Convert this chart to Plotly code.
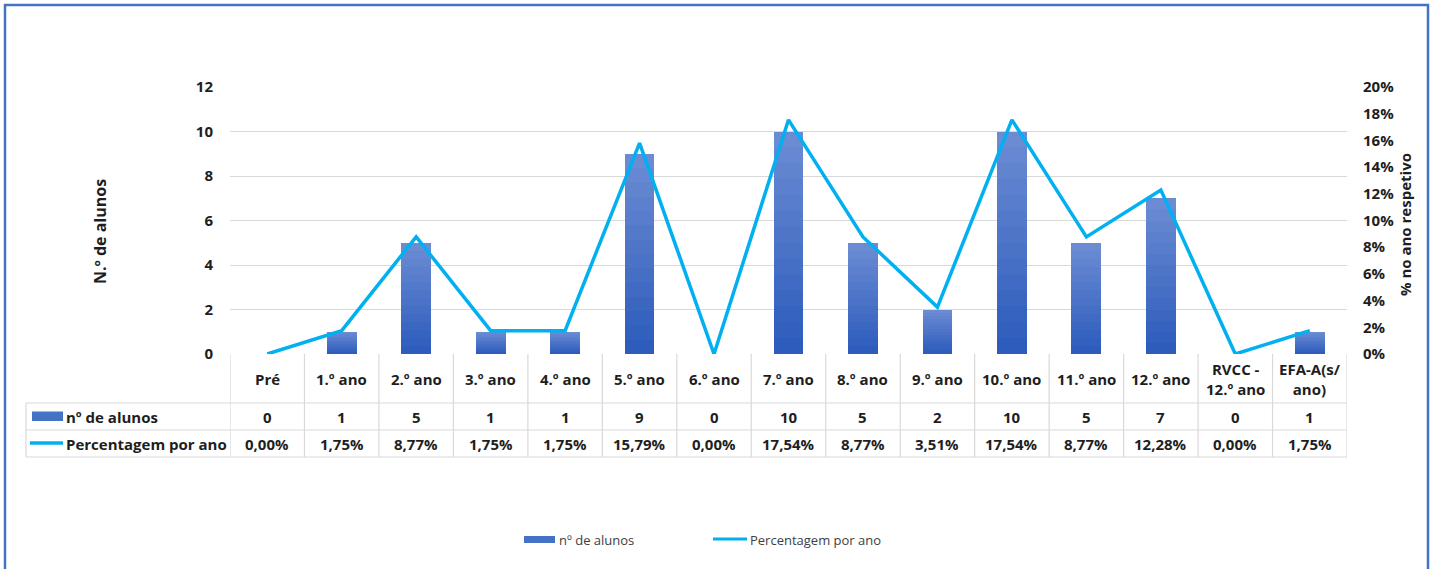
import plotly.graph_objects as go

# ---------------- data ----------------
categories = ["Pré", "1.º ano", "2.º ano", "3.º ano", "4.º ano", "5.º ano", "6.º ano",
              "7.º ano", "8.º ano", "9.º ano", "10.º ano", "11.º ano", "12.º ano",
              "RVCC -<br>12.º ano", "EFA-A(s/<br>ano)"]
n_alunos = [0, 1, 5, 1, 1, 9, 0, 10, 5, 2, 10, 5, 7, 0, 1]
percentagem = [0.00, 1.75, 8.77, 1.75, 1.75, 15.79, 0.00, 17.54, 8.77, 3.51,
               17.54, 8.77, 12.28, 0.00, 1.75]
left_ticks = [0, 2, 4, 6, 8, 10, 12]
right_ticks = [0, 2, 4, 6, 8, 10, 12, 14, 16, 18, 20]
series_names = ["nº de alunos", "Percentagem por ano"]

# ---------------- geometry helpers ----------------
W, H = 1434, 569
L, R, T, B = 230, 1347, 87, 354


def px(x):
    return (x - L) / (R - L)


def py(y):
    return (B - y) / (B - T)


FONT = "'Open Sans', 'Noto Sans', sans-serif"
TXT = "#1e1e1e"
GRID = "#D9D9D9"
BAR_TOP = (0x6B, 0x8B, 0xD3)
BAR_BOT = (0x2D, 0x5C, 0xBC)
LINE_C = "#00B0F0"
FS = 15

fig = go.Figure()

# gradient bars via overlaid bars
N = 14
xs = list(range(len(categories)))
for k in range(N):
    t = k / (N - 1)
    c = tuple(round(BAR_TOP[i] + (BAR_BOT[i] - BAR_TOP[i]) * t) for i in range(3))
    fig.add_trace(go.Bar(
        x=xs, y=[v * (N - k) / N for v in n_alunos], width=0.4,
        marker=dict(color="rgb(%d,%d,%d)" % c, line=dict(width=0)),
        showlegend=False, hoverinfo="skip", name=series_names[0]))

fig.add_trace(go.Scatter(
    x=xs, y=[p / 100 for p in percentagem], yaxis="y2", mode="lines",
    line=dict(color=LINE_C, width=3.5), showlegend=False, name=series_names[1]))

shapes = []
annotations = []

# table vertical lines
for i in range(len(categories) + 1):
    shapes.append(dict(type="line", xref="x", yref="paper", x0=i - 0.5, x1=i - 0.5,
                       y0=py(354), y1=py(457), line=dict(color=GRID, width=1.2)))
shapes.append(dict(type="line", xref="paper", yref="paper", x0=px(26), x1=px(26),
                   y0=py(403), y1=py(457), line=dict(color=GRID, width=1.2)))
for yy in (403, 430, 457):
    shapes.append(dict(type="line", xref="paper", yref="paper", x0=px(26), x1=px(R),
                       y0=py(yy), y1=py(yy), line=dict(color=GRID, width=1.2)))

# table cells
for i, cat in enumerate(categories):
    annotations.append(dict(xref="x", yref="paper", x=i, y=py(379), text="<b>%s</b>" % cat,
                            showarrow=False, font=dict(size=FS, color=TXT, family=FONT),
                            xanchor="center", yanchor="middle"))
    annotations.append(dict(xref="x", yref="paper", x=i, y=py(416.5), text="<b>%d</b>" % n_alunos[i],
                            showarrow=False, font=dict(size=FS, color=TXT, family=FONT),
                            xanchor="center", yanchor="middle"))
    ptxt = ("%.2f%%" % percentagem[i]).replace(".", ",")
    annotations.append(dict(xref="x", yref="paper", x=i, y=py(443.5), text="<b>%s</b>" % ptxt,
                            showarrow=False, font=dict(size=FS, color=TXT, family=FONT),
                            xanchor="center", yanchor="middle"))

# table legend keys
shapes.append(dict(type="rect", xref="paper", yref="paper", x0=px(32), x1=px(63),
                   y0=py(421), y1=py(411.5), fillcolor="#4472C4", line=dict(width=0)))
shapes.append(dict(type="line", xref="paper", yref="paper", x0=px(30), x1=px(63),
                   y0=py(443), y1=py(443), line=dict(color=LINE_C, width=3.5)))
annotations.append(dict(xref="paper", yref="paper", x=px(64), y=py(416.5),
                        text="<b>%s</b>" % series_names[0], showarrow=False,
                        font=dict(size=FS, color=TXT, family=FONT), xanchor="left", yanchor="middle"))
annotations.append(dict(xref="paper", yref="paper", x=px(64), y=py(443.5),
                        text="<b>%s</b>" % series_names[1], showarrow=False,
                        font=dict(size=FS, color=TXT, family=FONT), xanchor="left", yanchor="middle"))

# axis titles
annotations.append(dict(xref="paper", yref="paper", x=px(100), y=py(232),
                        text="<b>N.º de alunos</b>", textangle=-90, showarrow=False,
                        font=dict(size=16, color=TXT, family=FONT), xanchor="center", yanchor="middle"))
annotations.append(dict(xref="paper", yref="paper", x=px(1405), y=py(225),
                        text="<b>% no ano respetivo</b>", textangle=-90, showarrow=False,
                        font=dict(size=15, color=TXT, family=FONT), xanchor="center", yanchor="middle"))

# bottom legend
shapes.append(dict(type="rect", xref="paper", yref="paper", x0=px(524), x1=px(555),
                   y0=py(543), y1=py(536), fillcolor="#4472C4", line=dict(width=0)))
annotations.append(dict(xref="paper", yref="paper", x=px(557), y=py(539.5),
                        text=series_names[0], showarrow=False,
                        font=dict(size=13, color="#404040", family=FONT), xanchor="left", yanchor="middle"))
shapes.append(dict(type="line", xref="paper", yref="paper", x0=px(713), x1=px(747),
                   y0=py(539), y1=py(539), line=dict(color=LINE_C, width=3)))
annotations.append(dict(xref="paper", yref="paper", x=px(748), y=py(539.5),
                        text=series_names[1], showarrow=False,
                        font=dict(size=13, color="#404040", family=FONT), xanchor="left", yanchor="middle"))

# outer border
shapes.append(dict(type="rect", xref="paper", yref="paper", x0=px(5), x1=px(1428),
                   y0=py(5), y1=py(580), line=dict(color="#4472C4", width=2.5),
                   fillcolor="rgba(0,0,0,0)", layer="above"))

fig.update_layout(
    width=W, height=H,
    margin=dict(l=L, r=W - R, t=T, b=H - B, pad=0),
    paper_bgcolor="white", plot_bgcolor="white",
    barmode="overlay", bargap=0,
    showlegend=False,
    font=dict(family=FONT, color=TXT),
    xaxis=dict(range=[-0.5, len(categories) - 0.5], showticklabels=False, showgrid=False,
               zeroline=False, showline=False, ticks="", fixedrange=True),
    yaxis=dict(range=[0, 12], tickvals=left_ticks, ticktext=["<b>%d</b>" % v for v in left_ticks],
               showgrid=True, gridcolor=GRID, gridwidth=1.2, zeroline=False, showline=False,
               tickfont=dict(size=FS, color=TXT, family=FONT), ticklabelstandoff=16),
    yaxis2=dict(range=[0, 0.20], overlaying="y", side="right",
                tickvals=[v / 100 for v in right_ticks],
                ticktext=["<b>%d%%</b>" % v for v in right_ticks],
                showgrid=False, zeroline=False, showline=False,
                tickfont=dict(size=FS, color=TXT, family=FONT), ticklabelstandoff=15),
    shapes=shapes, annotations=annotations,
)

fig.write_html("out.html", config={"displayModeBar": False},
               post_script="document.body.style.margin='0';document.body.style.padding='0';")
